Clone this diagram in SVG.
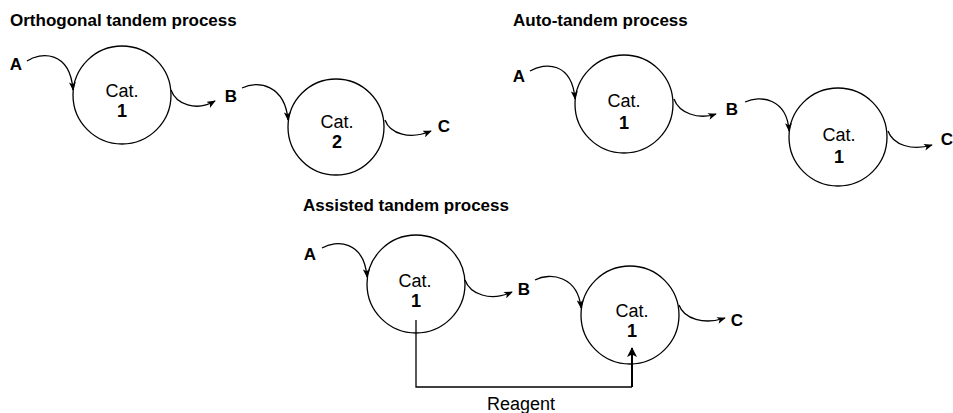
<svg xmlns="http://www.w3.org/2000/svg" width="953" height="413" viewBox="0 0 953 413">
  <defs>
    <marker id="head" viewBox="0 0 10 8" refX="9" refY="4" markerWidth="9" markerHeight="7" markerUnits="userSpaceOnUse" orient="auto">
      <path d="M0,0 L10,4 L0,8 L2.5,4 Z" fill="#000"/>
    </marker>
    <marker id="head-bold" viewBox="0 0 10 10" refX="9" refY="5" markerWidth="12" markerHeight="10" markerUnits="userSpaceOnUse" orient="auto">
      <path d="M0,0 L10,5 L0,10 L2.5,5 Z" fill="#000"/>
    </marker>
  </defs>
  <style>
    .title { font-family: "Liberation Sans", Arial, sans-serif; font-weight: bold; font-size: 17px; fill: #000; }
    .lbl { font-family: "Liberation Sans", Arial, sans-serif; font-weight: bold; font-size: 17px; fill: #000; text-anchor: middle; }
    .cat { font-family: "Liberation Sans", Arial, sans-serif; font-size: 18px; fill: #000; text-anchor: middle; }
    .num { font-family: "Liberation Sans", Arial, sans-serif; font-weight: bold; font-size: 18px; fill: #000; text-anchor: middle; }
    .ring { fill: #fff; stroke: #000; stroke-width: 1.3; }
    .flow { fill: none; stroke: #000; stroke-width: 1.3; marker-end: url(#head); }
    .feed { fill: none; stroke: #000; stroke-width: 1.3; }
  </style>
  <rect width="953" height="413" fill="#fff"/>

  <!-- panel titles -->
  <text class="title" x="10" y="26">Orthogonal tandem process</text>
  <text class="title" x="513" y="26">Auto-tandem process</text>
  <text class="title" x="303" y="211">Assisted tandem process</text>

  <!-- catalyst nodes -->
  <g id="ortho-cat1">
    <circle class="ring" cx="122" cy="95" r="49"/>
    <text class="cat" x="122" y="97">Cat.</text>
    <text class="num" x="122" y="117">1</text>
  </g>
  <g id="ortho-cat2">
    <circle class="ring" cx="336" cy="127" r="48"/>
    <text class="cat" x="337" y="128">Cat.</text>
    <text class="num" x="337" y="148">2</text>
  </g>
  <g id="auto-cat1a">
    <circle class="ring" cx="624" cy="104" r="49"/>
    <text class="cat" x="624" y="107">Cat.</text>
    <text class="num" x="624" y="129">1</text>
  </g>
  <g id="auto-cat1b">
    <circle class="ring" cx="838" cy="137" r="49"/>
    <text class="cat" x="839" y="141">Cat.</text>
    <text class="num" x="839" y="163">1</text>
  </g>
  <g id="assist-cat1a">
    <circle class="ring" cx="416" cy="284" r="49"/>
    <text class="cat" x="415" y="287">Cat.</text>
    <text class="num" x="416" y="307">1</text>
  </g>
  <g id="assist-cat1b">
    <circle class="ring" cx="630" cy="315" r="49"/>
    <text class="cat" x="632" y="317">Cat.</text>
    <text class="num" x="632" y="337">1</text>
  </g>

  <!-- species labels -->
  <g id="species">
    <text class="lbl" x="16" y="70">A</text>
    <text class="lbl" x="231" y="102">B</text>
    <text class="lbl" x="444" y="132">C</text>
    <text class="lbl" x="519" y="82">A</text>
    <text class="lbl" x="732" y="115">B</text>
    <text class="lbl" x="947" y="145">C</text>
    <text class="lbl" x="310" y="260">A</text>
    <text class="lbl" x="524" y="295">B</text>
    <text class="lbl" x="737" y="326">C</text>
    <text class="cat" x="521" y="410">Reagent</text>
  </g>

  <!-- connectors -->
  <g id="connectors">
    <path class="flow" d="M27,61 C40,52 70,50 73,90"/>
    <path class="flow" d="M171,90 C176,104 196,112 215,101"/>
    <path class="flow" d="M242,88 C258,80 285,85 288,120"/>
    <path class="flow" d="M385,120 C390,134 410,140 431,131"/>

    <path class="flow" d="M530,71 C545,62 572,62 575,99"/>
    <path class="flow" d="M674,99 C679,113 698,120 716,114"/>
    <path class="flow" d="M745,102 C760,95 787,98 789,131"/>
    <path class="flow" d="M888,131 C893,145 912,151 932,145"/>

    <path class="flow" d="M322,248 C336,240 364,240 367,277"/>
    <path class="flow" d="M465,280 C470,294 490,302 512,292"/>
    <path class="flow" d="M535,280 C550,272 578,276 581,308"/>
    <path class="flow" d="M679,305 C684,319 704,325 725,318"/>

    <path class="feed" d="M416,320 V387 H632"/>
    <path fill="none" stroke="#000" stroke-width="2" marker-end="url(#head-bold)" d="M632,387 V348"/>
  </g>
</svg>
